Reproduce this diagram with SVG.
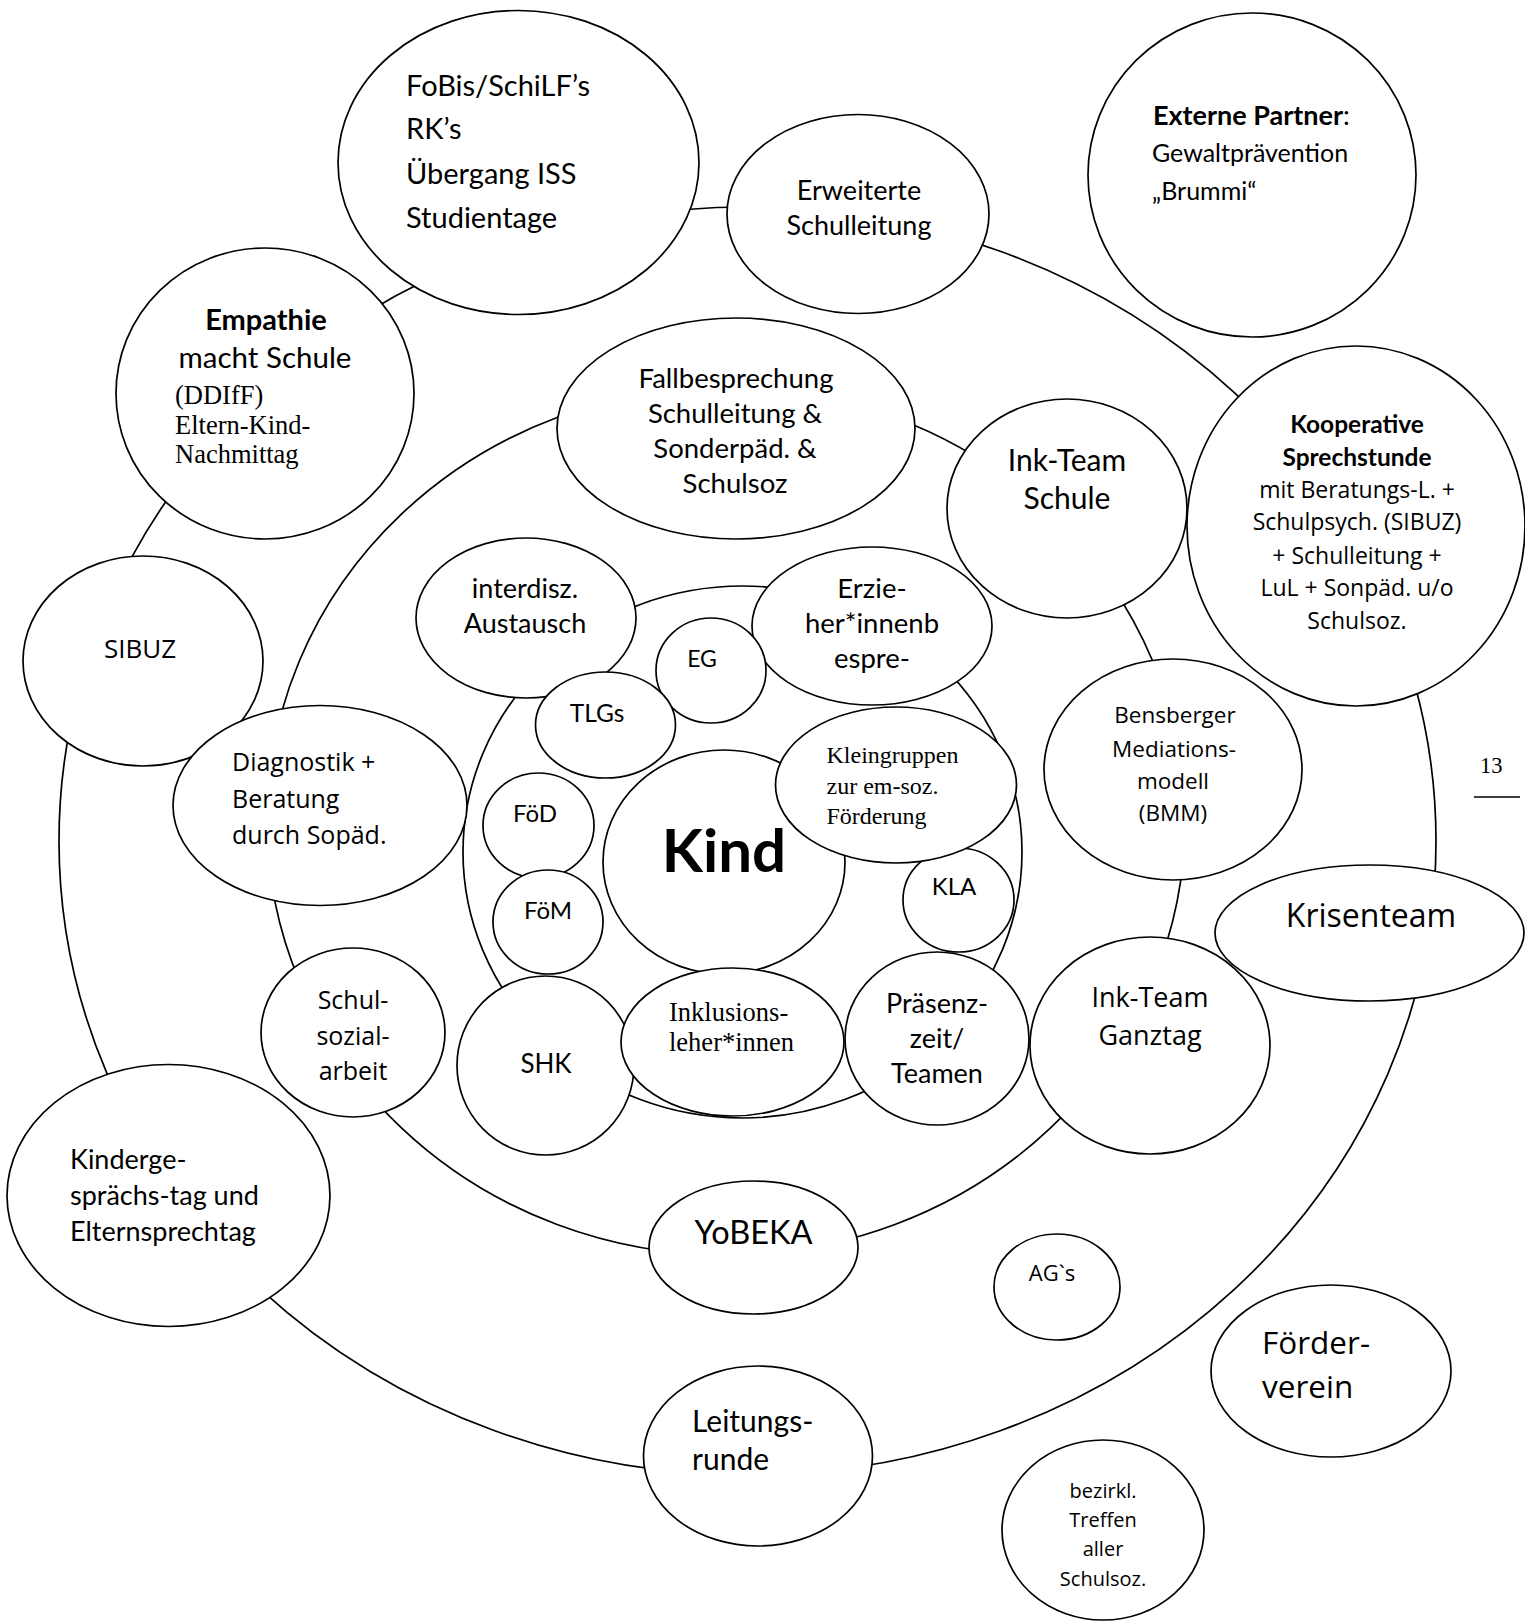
<svg xmlns="http://www.w3.org/2000/svg" width="1525" height="1621" viewBox="0 0 1525 1621">
<style>
.n{fill:#fff;stroke:#000;stroke-width:1.7}
.r{fill:none;stroke:#000;stroke-width:1.7}
text{fill:#000}
.c{font-family:Lato,"Liberation Sans",sans-serif}
.s{font-family:"Open Sans","Liberation Sans",sans-serif}
.t{font-family:"Liberation Serif","Times New Roman",serif}
.m{text-anchor:middle}
.b{font-weight:bold}
</style>
<rect width="1525" height="1621" fill="#fff"/>
<g id="connectors">
<ellipse class="r" cx="747.5" cy="841" rx="688.5" ry="634"/>
<ellipse class="r" cx="726" cy="821" rx="459" ry="434"/>
<ellipse class="r" cx="742.5" cy="852" rx="279.5" ry="266"/>
</g>
<g id="fobis">
<ellipse class="n" cx="518.5" cy="162.5" rx="180.5" ry="152"/>
<text class="c" font-size="29" x="406" y="96">FoBis/SchiLF’s</text>
<text class="c" font-size="29" x="406" y="139">RK’s</text>
<text class="c" font-size="29" x="406" y="184">Übergang ISS</text>
<text class="c" font-size="29" x="406" y="228">Studientage</text>
</g>
<g id="erweiterte">
<ellipse class="n" cx="858" cy="214" rx="131" ry="99.5"/>
<text class="c m" font-size="27" x="859" y="200">Erweiterte</text>
<text class="c m" font-size="27" x="859" y="235">Schulleitung</text>
</g>
<g id="externe">
<ellipse class="n" cx="1252" cy="175" rx="164" ry="162"/>
<text class="c" font-size="27" x="1153" y="125"><tspan class="b">Externe Partner</tspan>:</text>
<text class="c" font-size="25" x="1152" y="162">Gewaltprävention</text>
<text class="c" font-size="25" x="1152" y="200">„Brummi“</text>
</g>
<g id="empathie">
<ellipse class="n" cx="265" cy="393.5" rx="149" ry="145.5"/>
<text class="c m b" font-size="29" x="266" y="330">Empathie</text>
<text class="c m" font-size="29.5" x="265" y="368">macht Schule</text>
<text class="t" font-size="26.5" x="175" y="404">(DDIfF)</text>
<text class="t" font-size="26.5" x="175" y="434">Eltern-Kind-</text>
<text class="t" font-size="26.5" x="175" y="463">Nachmittag</text>
</g>
<g id="fallbesprechung">
<ellipse class="n" cx="736" cy="428.5" rx="179" ry="110.5"/>
<text class="c m" font-size="27.5" x="736" y="388">Fallbesprechung</text>
<text class="c m" font-size="27.5" x="735" y="423">Schulleitung &amp;</text>
<text class="c m" font-size="27.5" x="735" y="458">Sonderpäd. &amp;</text>
<text class="c m" font-size="27.5" x="735" y="493">Schulsoz</text>
</g>
<g id="inkteam-schule">
<ellipse class="n" cx="1067" cy="508.5" rx="120" ry="109.5"/>
<text class="c m" font-size="30" x="1067" y="471">Ink-Team</text>
<text class="c m" font-size="30" x="1067" y="509">Schule</text>
</g>
<g id="kooperative">
<ellipse class="n" cx="1356" cy="526" rx="169" ry="180"/>
<text class="c m b" font-size="24.5" x="1357" y="433">Kooperative</text>
<text class="c m b" font-size="24.5" x="1357" y="466">Sprechstunde</text>
<text class="s m" font-size="23" x="1357" y="498">mit Beratungs-L. +</text>
<text class="s m" font-size="23" x="1357" y="530">Schulpsych. (SIBUZ)</text>
<text class="s m" font-size="23" x="1357" y="564">+ Schulleitung +</text>
<text class="s m" font-size="23" x="1357" y="596">LuL + Sonpäd. u/o</text>
<text class="s m" font-size="23" x="1357" y="629">Schulsoz.</text>
</g>
<g id="sibuz">
<ellipse class="n" cx="143" cy="661" rx="120" ry="105"/>
<text class="s m" font-size="26" x="140" y="658">SIBUZ</text>
</g>
<g id="diagnostik">
<ellipse class="n" cx="320" cy="805.5" rx="147" ry="100"/>
<text class="s" font-size="25" x="232" y="771">Diagnostik +</text>
<text class="s" font-size="25" x="232" y="808">Beratung</text>
<text class="s" font-size="25" x="232" y="844">durch Sopäd.</text>
</g>
<g id="interdisz">
<ellipse class="n" cx="526" cy="618" rx="110" ry="80"/>
<text class="c m" font-size="27" x="525" y="598">interdisz.</text>
<text class="c m" font-size="27" x="525" y="633">Austausch</text>
</g>
<g id="erzieher">
<ellipse class="n" cx="872" cy="626" rx="120" ry="79"/>
<text class="c m" font-size="27.5" x="872" y="598">Erzie-</text>
<text class="c m" font-size="27.5" x="872" y="633">her*innenb</text>
<text class="c m" font-size="27.5" x="872" y="668">espre-</text>
</g>
<g id="eg">
<ellipse class="n" cx="711" cy="670.5" rx="55" ry="52.5"/>
<text class="c m" font-size="23" x="702" y="667">EG</text>
</g>
<g id="tlgs">
<ellipse class="n" cx="605.5" cy="725" rx="70" ry="53"/>
<text class="c m" font-size="24.5" x="597" y="722">TLGs</text>
</g>
<g id="bensberger">
<ellipse class="n" cx="1173" cy="769.5" rx="129" ry="110.5"/>
<text class="s m" font-size="22.5" x="1175" y="723">Bensberger</text>
<text class="s m" font-size="22.5" x="1174" y="757">Mediations-</text>
<text class="s m" font-size="22.5" x="1173" y="789">modell</text>
<text class="s m" font-size="22.5" x="1173" y="821">(BMM)</text>
</g>
<g id="kind">
<ellipse class="n" cx="724" cy="862" rx="121" ry="112"/>
<text class="c m b" font-size="60" x="724" y="872">Kind</text>
</g>
<g id="kla">
<ellipse class="n" cx="958.5" cy="900" rx="55.5" ry="52"/>
<text class="c m" font-size="24" x="954" y="895">KLA</text>
</g>
<g id="kleingruppen">
<ellipse class="n" cx="896" cy="785" rx="120.5" ry="78"/>
<text class="t" font-size="24" x="826.5" y="763">Kleingruppen</text>
<text class="t" font-size="24" x="826.5" y="794">zur em-soz.</text>
<text class="t" font-size="24" x="826.5" y="824">Förderung</text>
</g>
<g id="foed">
<ellipse class="n" cx="538.5" cy="825.5" rx="55.5" ry="52.5"/>
<text class="c m" font-size="24" x="535" y="822">FöD</text>
</g>
<g id="foem">
<ellipse class="n" cx="548" cy="922" rx="55" ry="52"/>
<text class="c m" font-size="24" x="548" y="919">FöM</text>
</g>
<g id="inkteam-ganztag">
<ellipse class="n" cx="1150" cy="1045.5" rx="120" ry="108.5"/>
<text class="s m" font-size="27" x="1150" y="1007">Ink-Team</text>
<text class="s m" font-size="27" x="1150" y="1045">Ganztag</text>
</g>
<g id="krisenteam">
<ellipse class="n" cx="1369.5" cy="933" rx="154.5" ry="68"/>
<text class="s m" font-size="32" x="1371" y="927">Krisenteam</text>
</g>
<g id="schulsozialarbeit">
<ellipse class="n" cx="353" cy="1032.5" rx="92" ry="84.5"/>
<text class="s m" font-size="25" x="353" y="1009">Schul-</text>
<text class="s m" font-size="25" x="353" y="1045">sozial-</text>
<text class="s m" font-size="25" x="353" y="1080">arbeit</text>
</g>
<g id="shk">
<ellipse class="n" cx="545.5" cy="1065.5" rx="88.5" ry="89.5"/>
<text class="c m" font-size="26" x="546" y="1073">SHK</text>
</g>
<g id="praesenzzeit">
<ellipse class="n" cx="937" cy="1038.5" rx="92" ry="86.5"/>
<text class="c m" font-size="27" x="937" y="1013">Präsenz-</text>
<text class="c m" font-size="27" x="937" y="1048">zeit/</text>
<text class="c m" font-size="27" x="937" y="1083">Teamen</text>
</g>
<g id="inklusionslehrer">
<ellipse class="n" cx="732.5" cy="1042" rx="111.5" ry="74"/>
<text class="t" font-size="26.5" x="669" y="1021">Inklusions-</text>
<text class="t" font-size="26.5" x="669" y="1051">leher*innen</text>
</g>
<g id="kindergespraechstag">
<ellipse class="n" cx="168.5" cy="1195.5" rx="161.5" ry="131"/>
<text class="c" font-size="27" x="70" y="1169">Kinderge-</text>
<text class="c" font-size="27" x="70" y="1205">sprächs-tag und</text>
<text class="c" font-size="27" x="70" y="1241">Elternsprechtag</text>
</g>
<g id="yobeka">
<ellipse class="n" cx="753.5" cy="1247.5" rx="104.5" ry="66.5"/>
<text class="c m" font-size="32.5" x="753.5" y="1244">YoBEKA</text>
</g>
<g id="ags">
<ellipse class="n" cx="1057" cy="1287" rx="63" ry="53"/>
<text class="s m" font-size="22" x="1052" y="1281">AG`s</text>
</g>
<g id="foerderverein">
<ellipse class="n" cx="1331" cy="1371" rx="120" ry="86"/>
<text class="s" font-size="31.5" x="1262" y="1354">Förder-</text>
<text class="s" font-size="31.5" x="1262" y="1398">verein</text>
</g>
<g id="leitungsrunde">
<ellipse class="n" cx="758" cy="1456" rx="114.5" ry="90"/>
<text class="c" font-size="30" x="692" y="1432">Leitungs-</text>
<text class="c" font-size="30" x="692" y="1470">runde</text>
</g>
<g id="bezirkl">
<ellipse class="n" cx="1103" cy="1530" rx="101" ry="90"/>
<text class="s m" font-size="20" x="1103" y="1498">bezirkl.</text>
<text class="s m" font-size="20" x="1103" y="1527">Treffen</text>
<text class="s m" font-size="20" x="1103" y="1556">aller</text>
<text class="s m" font-size="20" x="1103" y="1586">Schulsoz.</text>
</g>
<g id="pagenumber">
<text class="t" font-size="22.5" x="1480" y="773">13</text>
<line x1="1474" y1="797" x2="1520" y2="797" stroke="#000" stroke-width="1.5"/>
</g>
</svg>
